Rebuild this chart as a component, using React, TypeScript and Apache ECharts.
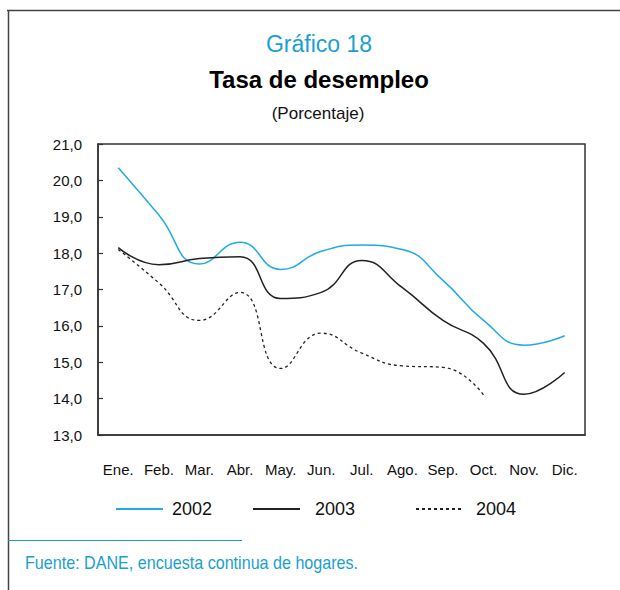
import React, { useEffect, useRef } from "react";
import * as echarts from "echarts";

const months = ["Ene.", "Feb.", "Mar.", "Abr.", "May.", "Jun.", "Jul.", "Ago.", "Sep.", "Oct.", "Nov.", "Dic."];
const s2002 = [20.35, 19.05, 17.7, 18.3, 17.55, 18.05, 18.22, 18.1, 17.25, 16.15, 15.47, 15.73];
const s2003 = [18.15, 17.68, 17.85, 17.9, 16.75, 16.92, 17.8, 17.05, 16.15, 15.52, 14.12, 14.72];
const s2004 = [18.1, 17.18, 16.15, 16.92, 14.83, 15.8, 15.25, 14.9, 14.86, 14.1];
const seriesNames = ["2002", "2003", "2004"];

const SANS = "'Liberation Sans', Arial, sans-serif";
const CYAN = "#1a9fcf";
const BLUE = "#22aae2";
const DARK = "#222222";

export default function App() {
  const ref = useRef<HTMLDivElement>(null);
  useEffect(() => {
    if (!ref.current) return;
    const chart = echarts.init(ref.current, undefined, { renderer: "svg" });
    const legendBase = {
      top: 500,
      padding: 0,
      itemWidth: 47,
      itemHeight: 18,
      itemStyle: { opacity: 0, borderWidth: 0 },
      textStyle: { fontSize: 18, color: "#111", fontFamily: SANS },
    };
    chart.setOption({
      animation: false,
      backgroundColor: "#ffffff",
      grid: {
        left: 98,
        right: 35,
        top: 144,
        bottom: 155,
        show: true,
        borderColor: "#333",
        borderWidth: 1.5,
        backgroundColor: "transparent",
      },
      legend: [
        { ...legendBase, left: 115, data: [seriesNames[0]], textStyle: { ...legendBase.textStyle, padding: [0, 0, 0, 4] } },
        { ...legendBase, left: 252, data: [seriesNames[1]], textStyle: { ...legendBase.textStyle, padding: [0, 0, 0, 10] } },
        { ...legendBase, left: 415, itemWidth: 45, data: [seriesNames[2]], textStyle: { ...legendBase.textStyle, padding: [0, 0, 0, 10] } },
      ],
      xAxis: {
        type: "category",
        data: months,
        boundaryGap: true,
        axisLine: { lineStyle: { color: "#333", width: 1.5 } },
        axisTick: { inside: true, length: 5, lineStyle: { color: "#333", width: 1.2 } },
        axisLabel: { margin: 27, fontSize: 15, color: "#111", fontFamily: SANS, interval: 0 },
        splitLine: { show: false },
      },
      yAxis: {
        type: "value",
        min: 13,
        max: 21,
        interval: 1,
        axisLine: { show: true, lineStyle: { color: "#333", width: 1.5 } },
        axisTick: { show: true, inside: true, length: 5, lineStyle: { color: "#333", width: 1.2 } },
        axisLabel: {
          margin: 16,
          fontSize: 15,
          color: "#111",
          fontFamily: SANS,
          formatter: (v: number) => v.toFixed(1).replace(".", ","),
        },
        splitLine: { show: false },
      },
      series: [
        {
          name: seriesNames[0],
          type: "line",
          data: s2002,
          smooth: 0.5,
          symbol: "none",
          lineStyle: { color: BLUE, width: 1.5 },
          itemStyle: { color: BLUE },
        },
        {
          name: seriesNames[1],
          type: "line",
          data: s2003,
          smooth: 0.5,
          symbol: "none",
          lineStyle: { color: DARK, width: 1.5 },
          itemStyle: { color: DARK },
        },
        {
          name: seriesNames[2],
          type: "line",
          data: s2004,
          smooth: 0.5,
          symbol: "none",
          lineStyle: { color: DARK, width: 1.3, type: [3, 3] },
          itemStyle: { color: DARK },
        },
      ],
      graphic: [
        { type: "line", shape: { x1: 7, y1: 10.5, x2: 620, y2: 10.5 }, style: { stroke: "#444", lineWidth: 1.5 } },
        { type: "line", shape: { x1: 8.5, y1: 10, x2: 8.5, y2: 590 }, style: { stroke: "#444", lineWidth: 1.5 } },
        {
          type: "text",
          x: 319,
          y: 44,
          style: { text: "Gráfico 18", textAlign: "center", textVerticalAlign: "middle", fontSize: 23, fontFamily: SANS, fill: CYAN },
        },
        {
          type: "text",
          x: 319,
          y: 79,
          style: { text: "Tasa de desempleo", textAlign: "center", textVerticalAlign: "middle", fontSize: 24, fontWeight: "bold", fontFamily: SANS, fill: "#000" },
        },
        {
          type: "text",
          x: 318,
          y: 113,
          style: { text: "(Porcentaje)", textAlign: "center", textVerticalAlign: "middle", fontSize: 17, fontFamily: SANS, fill: "#111" },
        },
        { type: "line", shape: { x1: 8, y1: 540.5, x2: 242, y2: 540.5 }, style: { stroke: CYAN, lineWidth: 1.2 } },
        {
          type: "text",
          x: 25,
          y: 563,
          scaleX: 0.895,
          style: { text: "Fuente: DANE, encuesta continua de hogares.", textAlign: "left", textVerticalAlign: "middle", fontSize: 18, fontFamily: SANS, fill: CYAN },
        },
      ],
    });
    return () => chart.dispose();
  }, []);
  return <div ref={ref} style={{ position: "fixed", left: 0, top: 0, width: 620, height: 590 }} />;
}
